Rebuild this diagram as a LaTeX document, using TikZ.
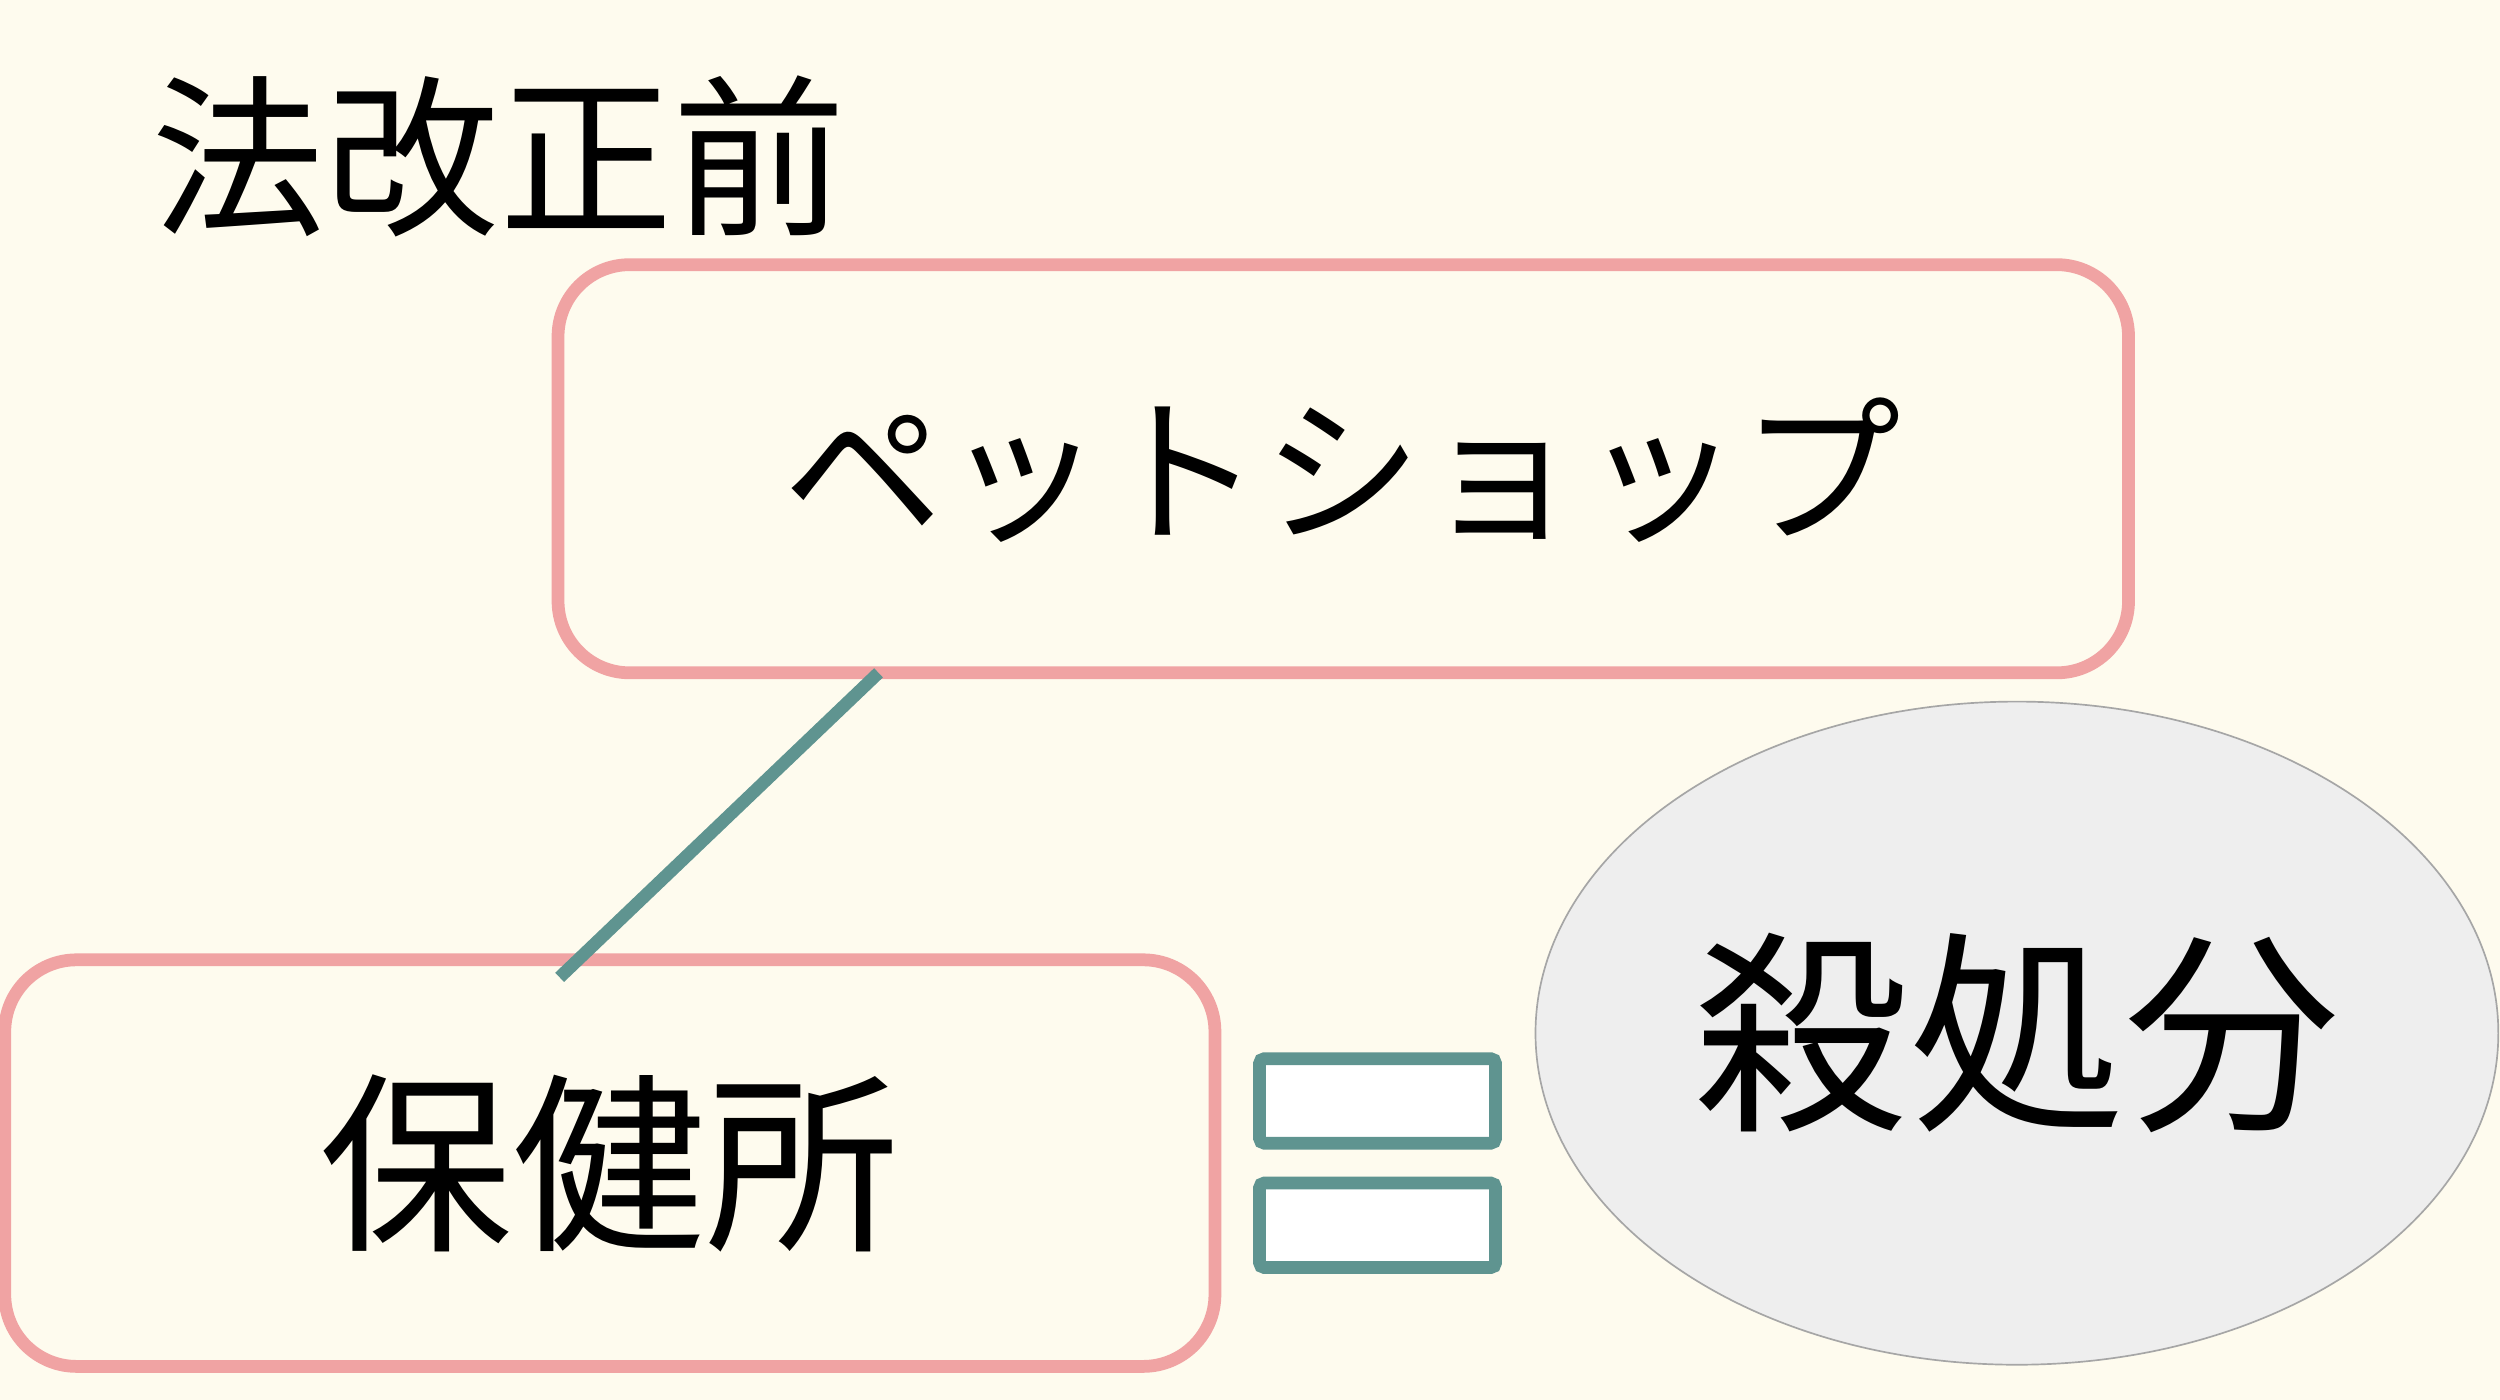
\documentclass[tikz,border=0pt]{standalone}
\usepackage{fontspec}
\usetikzlibrary{shapes.geometric}
\setmainfont{Noto Sans CJK JP}
\definecolor{bg}{HTML}{FEFBEE}
\definecolor{pinkb}{HTML}{F0A3A3}
\definecolor{tealc}{HTML}{5F9490}
\definecolor{ellf}{HTML}{EEEEEE}
\tikzset{
  pbox/.style={draw=pinkb,line width=0.16cm,rounded corners=0.9cm},
  eqbar/.style={draw=tealc,fill=white,line width=0.16cm,rounded corners=0.06cm},
}
\begin{document}
\begin{tikzpicture}[x=0.02cm,y=-0.02cm]
\fill[bg] (0,0) rectangle (1568,878);
\useasboundingbox (0,0) rectangle (1568,878);
\node (title) at (313,98) {\fontsize{62pt}{70pt}\selectfont 法改正前};
\draw[pbox] (350,166) rectangle (1335,422);
\node (shop) at (842,295) {\fontsize{57pt}{64pt}\selectfont ペットショップ};
\coordinate (shopb) at (551,422);
\draw[pbox] (3,602) rectangle (762,857);
\node (hok) at (382,730) {\fontsize{69pt}{76pt}\selectfont 保健所};
\coordinate (hokt) at (351,613);
\draw[tealc,line width=0.16cm] (shopb) -- (hokt);
\draw[eqbar] (790,664) rectangle (938,717);
\draw[eqbar] (790,742) rectangle (938,795);
\node (kill) [ellipse,draw=gray!70,fill=ellf,line width=0.6pt,minimum width=12.08cm,minimum height=8.32cm,inner sep=0] at (1265,648) {};
\node at (1265,648) {\fontsize{77pt}{84pt}\selectfont 殺処分};
\end{tikzpicture}
\end{document}
